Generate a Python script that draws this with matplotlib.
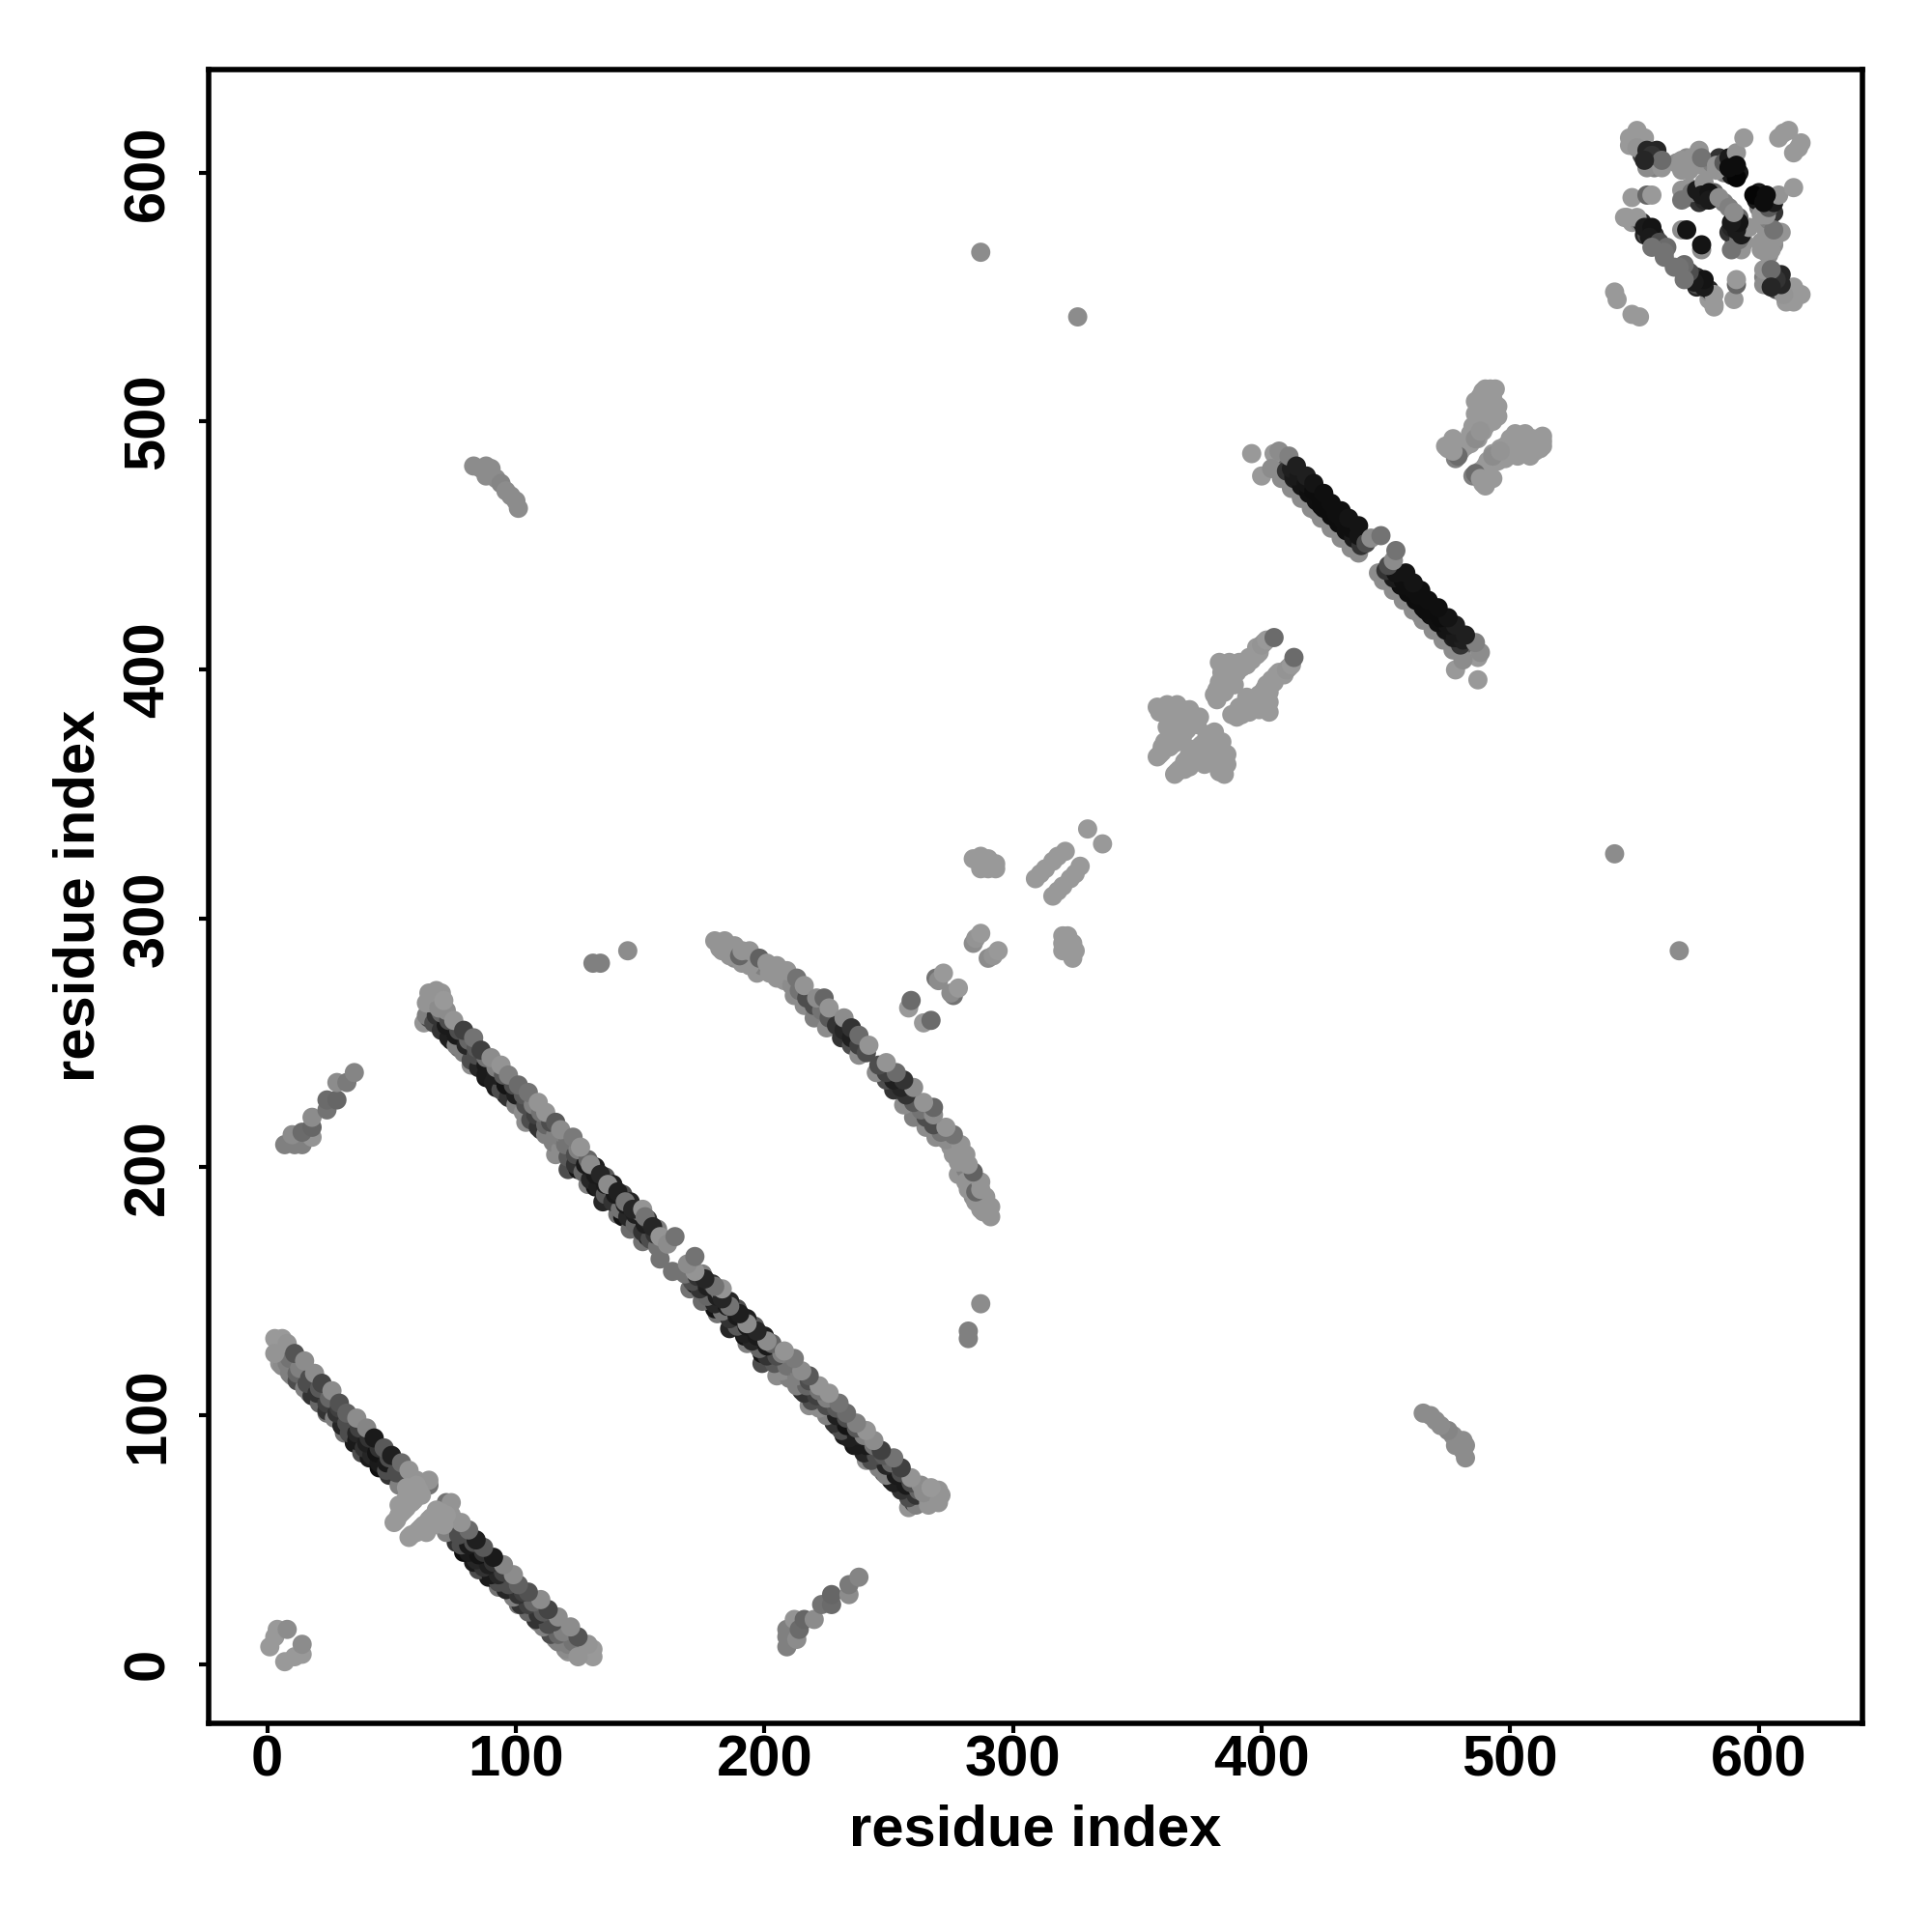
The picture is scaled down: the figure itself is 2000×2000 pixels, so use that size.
import matplotlib
matplotlib.use('Agg')
import matplotlib.pyplot as plt

# contacts, only the i<j half, the other half is the mirror image
# hairpin 1
a_low_i = [5, 10, 13, 17, 21, 24, 28, 31, 35, 38, 41, 45, 49, 53]
a_low_j = [121, 116, 116, 109, 106, 101, 99, 93, 89, 85, 83, 79, 76, 72]
a_low_g = [.58, .55, .15, .5, .12, .45, .15, .45, .1, .3, .1, .05, .2, .5]
a_fill1_i = [6, 9, 12, 15, 18, 21, 24, 27, 30, 33, 36, 39, 42, 45, 48]
a_fill1_j = [120, 117, 114, 111, 108, 105, 102, 99, 96, 93, 90, 87, 84, 81, 78]
a_fill1_g = [.55, .5, .3, .5, .2, .4, .2, .5, .15, .3, .1, .2, .15, .1, .3]
a_mid_i = [8, 12, 16, 20, 24, 28, 32, 36, 40, 44, 48, 52]
a_mid_j = [121, 117, 113, 109, 105, 101, 97, 93, 89, 85, 81, 77]
a_mid_g = [.5, .4, .3, .2, .25, .2, .3, .15, .12, .08, .1, .3]
a_fill2_i = [5, 9, 13, 17, 21, 25, 29, 33, 37, 41, 45, 49]
a_fill2_j = [127, 123, 119, 115, 111, 107, 103, 99, 95, 91, 87, 83]
a_fill2_g = [.55, .45, .5, .3, .35, .4, .25, .3, .25, .2, .2, .3]
a_top_i = [3, 6, 3, 8, 11, 15, 19, 22, 26, 29, 32, 36, 40, 43, 47, 50, 54, 57, 60, 65, 65]
a_top_j = [131, 131, 125, 129, 125, 122, 117, 113, 110, 105, 101, 99, 95, 91, 87, 84, 81, 78, 74, 72, 74]
a_top_g = [.6, .6, .58, .58, .33, .55, .55, .27, .55, .32, .38, .55, .52, .1, .35, .12, .42, .58, .58, .45, .58]
a_wing_i = [51, 52, 53, 54, 55, 56, 57, 58, 59, 53, 55, 57, 58, 56, 60, 62, 59, 56, 61]
a_wing_j = [57, 58, 60, 61, 62, 63, 65, 65, 66, 64, 65, 68, 71, 71, 72, 68, 68, 67, 70]

# long strand pair
b_low_i = [63, 65, 71, 74, 77, 82, 88, 92, 96, 100, 104, 107, 110, 116, 121, 125, 129, 132, 135, 141, 143, 146, 151, 153]
b_low_j = [258, 260, 258, 251, 248, 241, 236, 232, 229, 230, 218, 221, 215, 205, 199, 199, 193, 192, 186, 181, 180, 175, 170, 172]
b_low_g = [.58, .25, .1, .08, .4, .55, .08, .1, .12, .1, .55, .12, .2, .55, .3, .08, .5, .08, .15, .45, .08, .42, .45, .08]
b_fill1_i = [64, 67, 70, 73, 76, 79, 82, 85, 88, 91, 94, 97, 100, 103, 106, 109, 112, 115, 118, 121, 124, 127, 130, 133, 136, 139, 142, 145, 148, 151, 154, 157]
b_fill1_j = [261, 258, 255, 252, 249, 246, 243, 240, 237, 234, 231, 228, 225, 222, 219, 216, 213, 210, 207, 204, 201, 198, 195, 192, 189, 186, 183, 180, 177, 174, 171, 168]
b_fill1_g = [.5, .3, .2, .12, .5, .5, .3, .15, .1, .12, .3, .2, .5, .55, .3, .2, .5, .5, .55, .35, .2, .4, .15, .12, .35, .2, .45, .15, .4, .2, .3, .45]
b_mid_i = [68, 72, 76, 80, 84, 88, 92, 96, 100, 104, 108, 112, 116, 120, 124, 128, 132, 136, 140, 144, 148, 152, 156]
b_mid_j = [261, 257, 253, 249, 245, 241, 237, 233, 229, 225, 221, 217, 213, 209, 205, 201, 197, 193, 189, 185, 181, 177, 173]
b_mid_g = [.2, .1, .1, .15, .3, .1, .12, .08, .12, .3, .25, .4, .5, .45, .3, .1, .1, .1, .1, .1, .12, .12, .2]
b_fill2_i = [66, 70, 73, 77, 81, 84, 88, 92, 95, 99, 103, 107, 110, 114, 118, 121, 125, 129, 132, 136, 139, 143, 146, 150, 153, 157]
b_fill2_j = [266, 262, 259, 255, 251, 248, 244, 240, 237, 233, 229, 225, 222, 218, 214, 211, 207, 203, 200, 196, 193, 189, 186, 182, 179, 175]
b_fill2_g = [.55, .4, .3, .3, .4, .35, .45, .5, .35, .3, .35, .5, .45, .3, .5, .45, .5, .4, .12, .35, .12, .3, .15, .45, .2, .5]
b_top_i = [64, 67, 70, 72, 69, 65, 68, 71, 75, 79, 83, 86, 90, 94, 97, 101, 105, 109, 112, 116, 118, 123, 126, 130, 134, 137, 141, 144, 147, 151, 152, 155, 158, 158, 161, 164]
b_top_j = [266, 267, 270, 263, 264, 270, 271, 267, 259, 255, 252, 247, 244, 241, 237, 233, 230, 226, 222, 218, 215, 212, 208, 201, 197, 193, 190, 186, 183, 183, 180, 176, 172, 163, 169, 172]
b_top_g = [.58, .58, .58, .55, .55, .58, .58, .6, .58, .25, .45, .25, .55, .58, .5, .42, .45, .58, .58, .35, .55, .48, .58, .55, .15, .55, .12, .45, .15, .58, .45, .15, .58, .45, .55, .45]

# arc
c_low_i = [182, 183, 188, 197, 205, 212, 216, 220, 225, 231, 235, 238]
c_low_j = [288, 287, 284, 278, 276, 269, 265, 260, 256, 252, 249, 245]
c_low_g = [.58, .58, .55, .58, .58, .55, .55, .5, .55, .2, .3, .55]
c_mid_i = [184, 187, 190, 193, 196, 199, 202, 205, 208, 211, 214, 217, 220, 223, 226, 229, 232, 235, 238, 241, 186, 189, 191, 194]
c_mid_j = [289, 287, 286, 284, 282, 281, 278, 277, 275, 273, 271, 268, 265, 263, 260, 257, 255, 252, 249, 246, 285, 285, 282, 281]
c_mid_g = [.58, .55, .55, .58, .58, .5, .58, .58, .58, .55, .45, .3, .3, .45, .35, .2, .15, .12, .25, .3, .58, .58, .58, .58]
c_top_i = [180, 184, 188, 190, 191, 194, 198, 201, 205, 209, 213, 216, 221, 224, 226, 232, 235, 238, 242]
c_top_j = [291, 291, 289, 285, 287, 287, 284, 282, 281, 279, 276, 273, 268, 268, 264, 260, 256, 253, 249]
c_top_g = [.58, .58, .58, .4, .58, .58, .38, .58, .58, .58, .45, .58, .55, .4, .58, .55, .2, .42, .58]

# small helices and loners
d_i = [258, 259, 269, 270, 272, 284, 285, 287, 284, 287, 290, 293, 287, 293, 290, 309, 311, 313, 316, 318, 321, 330, 326, 287]
d_j = [264, 267, 276, 275, 278, 290, 292, 294, 324, 325, 324, 322, 320, 320, 320, 316, 318, 320, 323, 325, 327, 336, 542, 568]
d_g = [.6, .42, .45, .55, .6, .55, .58, .6, .6, .6, .6, .6, .6, .6, .6, .6, .6, .6, .6, .6, .6, .6, .55, .55]
e_i = [131, 134, 145, 83, 86, 88, 90, 88, 92, 94, 96, 98, 100, 101, 1, 3, 4, 8]
e_j = [282, 282, 287, 482, 481, 482, 481, 478, 477, 475, 472, 470, 468, 465, 7, 11, 14, 14]
e_g = [.5, .5, .55, .55, .55, .55, .55, .55, .55, .52, .55, .55, .55, .55, .6, .6, .6, .55]
f_i = [7, 11, 14, 10, 18, 14, 18, 18, 24, 24, 28, 28, 32, 35]
f_j = [209, 209, 209, 213, 212, 214, 216, 220, 223, 227, 227, 234, 234, 238]
f_g = [.5, .5, .5, .55, .58, .42, .4, .55, .45, .42, .4, .55, .48, .52]

# butterfly blobs next to the diagonal
w1_i = [358, 362, 366, 371, 375, 364, 369, 374, 363, 367, 360, 358, 364, 369, 359, 361, 364, 368, 372, 366, 362, 365, 370, 372, 361, 363, 360, 359, 366, 368, 365, 367]
w1_j = [385, 386, 386, 384, 381, 381, 378, 378, 373, 374, 369, 365, 370, 375, 383, 384, 384, 384, 382, 379, 377, 376, 376, 380, 371, 369, 367, 366, 371, 372, 372, 376]
w2_i = [382, 384, 385, 384, 386, 388, 390, 392, 394, 387, 385, 381, 393, 395, 398, 389, 398, 401, 383, 387, 382, 383, 391, 387, 389, 385, 396, 399, 400, 402, 405]
w2_j = [392, 399, 402, 393, 394, 401, 399, 401, 402, 395, 397, 390, 403, 405, 406, 400, 409, 411, 403, 403, 388, 395, 403, 398, 394, 391, 404, 407, 410, 412, 413]
w2_g = [.6, .6, .6, .6, .6, .6, .6, .6, .6, .6, .6, .6, .6, .6, .6, .6, .6, .6, .6, .6, .6, .6, .6, .6, .6, .6, .6, .6, .58, .6, .42]
w3_i = [475, 476, 478, 478, 480, 482, 484, 484, 485, 486, 487, 488, 489, 491, 492, 493, 494, 491, 490, 488, 493, 487, 489, 490, 474, 477, 480, 479, 477, 486, 487, 486, 490, 494, 495, 492, 490, 488, 495]
w3_j = [489, 491, 490, 485, 488, 490, 491, 495, 498, 503, 505, 510, 512, 510, 513, 509, 504, 503, 498, 500, 500, 493, 496, 502, 490, 493, 491, 486, 488, 493, 501, 508, 513, 513, 506, 500, 505, 496, 502]
w3_g = [.6, .6, .6, .5, .6, .6, .6, .6, .6, .6, .6, .6, .6, .6, .6, .6, .6, .6, .6, .6, .6, .6, .6, .6, .6, .6, .6, .42, .6, .55, .6, .6, .6, .6, .6, .6, .6, .58, .6]

# long strand near 450
h_low_i = [396, 400, 407, 409, 413, 416, 422, 428, 431, 435, 439, 405, 417]
h_low_j = [487, 478, 482, 478, 474, 470, 464, 458, 456, 453, 447, 487, 473]
h_low_g = [.6, .6, .4, .15, .1, .55, .55, .55, .5, .5, .55, .6, .05]
h_fill_i = [404, 408, 412, 416, 420, 424, 428, 432, 436]
h_fill_j = [481, 477, 473, 469, 465, 461, 457, 453, 449]
h_fill_g = [.55, .55, .55, .55, .55, .55, .55, .55, .55]
h_mid_i = [410, 413, 416, 419, 422, 425, 428, 431, 434, 437, 440, 413, 424, 430, 436]
h_mid_j = [480, 477, 474, 471, 468, 465, 462, 459, 456, 453, 450, 478, 466, 461, 457]
h_mid_g = [.2, .12, .08, .06, .06, .05, .05, .05, .06, .1, .2, .1, .05, .05, .08]
h_mid2_i = [412, 415, 418, 421, 424, 427, 430, 433, 436, 439, 442]
h_mid2_j = [481, 478, 475, 472, 469, 466, 463, 460, 457, 454, 451]
h_mid2_g = [.12, .1, .08, .05, .05, .05, .06, .06, .06, .08, .3]
h_top_i = [407, 411, 414, 418, 421, 425, 428, 432, 435, 439, 444, 448]
h_top_j = [488, 486, 482, 478, 475, 471, 467, 464, 461, 458, 453, 454]
h_top_g = [.55, .5, .12, .12, .08, .06, .06, .06, .08, .08, .55, .45]

# C-terminal domain, top right corner
k_i = [549, 552, 553, 556, 558, 559, 556, 553, 558, 555, 567, 568, 571, 572, 573, 575, 571, 577, 580, 581, 584, 586, 589, 589, 592, 583, 570, 571, 572, 574, 576, 578, 581, 582, 586, 546, 549, 552, 554, 555, 558, 559, 561, 562, 555, 553, 551, 548, 554, 548, 551, 555, 555, 561, 559, 557, 561, 554, 569, 576, 569, 574, 577, 583, 586, 588, 591, 594, 591, 588, 591, 549, 555, 557, 569, 569, 573, 575, 578, 577, 580, 580, 584, 547, 551, 554, 557, 556, 560, 563, 557, 562, 569, 571, 542, 543, 608, 610, 612]
k_j = [612, 612, 610, 607, 606, 604, 604, 607, 602, 603, 604, 603, 606, 601, 606, 606, 603, 603, 601, 604, 606, 600, 599, 604, 600, 601, 591, 590, 594, 591, 588, 589, 590, 592, 588, 582, 580, 580, 575, 576, 575, 573, 570, 566, 575, 580, 617, 614, 614, 611, 610, 602, 609, 602, 609, 607, 605, 605, 605, 609, 601, 603, 606, 603, 604, 606, 608, 614, 598, 602, 603, 590, 591, 591, 593, 589, 592, 593, 596, 591, 592, 589, 590, 582, 582, 578, 578, 574, 572, 570, 570, 568, 577, 577, 552, 549, 614, 616, 617]
k_g = [.58, .55, .35, .2, .15, .3, .2, .3, .5, .55, .55, .58, .55, .58, .58, .58, .58, .58, .58, .5, .2, .5, .1, .08, .1, .58, .5, .45, .58, .3, .2, .15, .12, .4, .5, .6, .6, .55, .15, .1, .15, .2, .3, .45, .3, .15, .6, .6, .6, .6, .58, .55, .15, .58, .15, .2, .42, .15, .58, .58, .58, .58, .45, .58, .35, .1, .58, .6, .02, .05, .05, .6, .4, .6, .58, .45, .45, .1, .58, .1, .08, .1, .55, .6, .6, .1, .08, .1, .3, .42, .45, .45, .55, .08, .6, .6, .6, .6, .6]

ticks = [0, 100, 200, 300, 400, 500, 600]

fig = plt.figure(figsize=(20, 20), dpi=100)
ax = fig.add_axes([0.108, 0.10825, 0.856, 0.85575])


def draw(i, j, g):
    # every contact shows up twice, once each side of the diagonal
    for xs, ys in ((i, j), (j, i)):
        ax.scatter(xs, ys, s=205, c=[str(v) for v in g], linewidths=0, zorder=3)


draw(a_low_i, a_low_j, a_low_g)
draw(a_fill1_i, a_fill1_j, a_fill1_g)
draw(a_mid_i, a_mid_j, a_mid_g)
draw(a_fill2_i, a_fill2_j, a_fill2_g)
draw(a_top_i, a_top_j, a_top_g)
draw(a_wing_i, a_wing_j, [.6] * len(a_wing_i))
draw(b_low_i, b_low_j, b_low_g)
draw(b_fill1_i, b_fill1_j, b_fill1_g)
draw(b_mid_i, b_mid_j, b_mid_g)
draw(b_fill2_i, b_fill2_j, b_fill2_g)
draw(b_top_i, b_top_j, b_top_g)
draw(c_low_i, c_low_j, c_low_g)
draw(c_mid_i, c_mid_j, c_mid_g)
draw(c_top_i, c_top_j, c_top_g)
draw(d_i, d_j, d_g)
draw(e_i, e_j, e_g)
draw(f_i, f_j, f_g)
draw(w1_i, w1_j, [.6] * len(w1_i))
draw(w2_i, w2_j, w2_g)
draw(w3_i, w3_j, w3_g)
draw(h_low_i, h_low_j, h_low_g)
draw(h_fill_i, h_fill_j, h_fill_g)
draw(h_mid_i, h_mid_j, h_mid_g)
draw(h_mid2_i, h_mid2_j, h_mid2_g)
draw(h_top_i, h_top_j, h_top_g)
draw(k_i, k_j, k_g)

ax.set_xlim(-23.6, 641.7)
ax.set_ylim(-23.6, 641.5)
ax.set_xticks(ticks)
ax.set_yticks(ticks)
ax.set_xticklabels([str(t) for t in ticks], fontsize=43, fontweight='bold', family='Liberation Sans')
ax.set_yticklabels([str(t) for t in ticks], fontsize=43, fontweight='bold', family='Liberation Sans',
                   rotation=90, va='center')
ax.tick_params(axis='x', length=7, width=3, pad=1.5)
ax.tick_params(axis='y', length=7, width=3, pad=18)
for s in ax.spines.values():
    s.set_linewidth(4)

ax.set_xlabel('residue index', fontsize=43, fontweight='bold', family='Liberation Sans')
ax.set_ylabel('residue index', fontsize=43, fontweight='bold', family='Liberation Sans')
ax.xaxis.set_label_coords(0.5, -0.0493)
ax.yaxis.set_label_coords(-0.0622, 0.5)

fig.savefig('out.png', dpi=100, facecolor='white')
